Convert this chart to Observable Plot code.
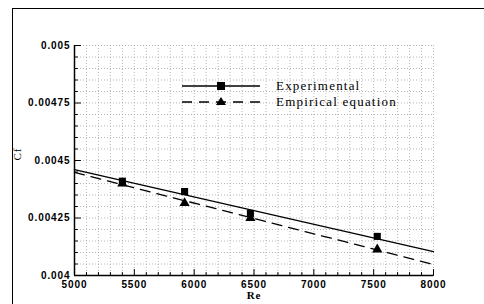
<!DOCTYPE html>
<html>
<head>
<meta charset="utf-8">
<script src="https://cdn.jsdelivr.net/npm/d3@7"></script>
<script src="https://cdn.jsdelivr.net/npm/@observablehq/plot@0.6"></script>
<style>
  html, body { margin: 0; padding: 0; background: #fff; }
  #wrap { position: relative; width: 484px; height: 304px; overflow: hidden; }
  #frame { position: absolute; left: 12px; top: 8px; width: 500px; height: 320px;
           border-left: 1.5px solid #000; border-top: 1.5px solid #000; }
  #legend { position: absolute; left: 182px; top: 78px; font-family: "Liberation Serif", "Times New Roman", serif;
            font-size: 13px; letter-spacing: 1.2px; color: #000; }
  .lg { display: flex; align-items: center; height: 16px; }
  .lg svg { margin-right: 16px; }
</style>
</head>
<body>
<div id="wrap">
  <div id="frame"></div>
  <div id="chart"></div>
  <div id="legend"></div>
</div>
<script>
// Data
const re = [5400, 5920, 6470, 7530];
const cfExperimental = [0.00441, 0.004365, 0.00427, 0.00417];
const cfEmpirical = [0.0044, 0.004315, 0.00425, 0.004113];
const fitRe = [5000, 8000];
const fitExperimental = [0.00446, 0.004104];
const fitEmpirical = [0.004448, 0.004048];
const seriesNames = ["Experimental", "Empirical equation"];
const xTicks = [5000, 5500, 6000, 6500, 7000, 7500, 8000];
const xTickLabels = ["5000", "5500", "6000", "6500", "7000", "7500", "8000"];
const yTicks = [0.004, 0.00425, 0.0045, 0.00475, 0.005];
const yTickLabels = ["0.004", "0.00425", "0.0045", "0.00475", "0.005"];
const xLabel = "Re";
const yLabel = "Cf";

const xMinor = d3.range(5000, 8001, 100);
const yMinor = d3.range(0, 21).map(i => +(0.004 + i * 0.00005).toFixed(6));

const expPts = re.map((r, i) => ({re: r, cf: cfExperimental[i]}));
const empPts = re.map((r, i) => ({re: r, cf: cfEmpirical[i]}));
const expFit = fitRe.map((r, i) => ({re: r, cf: fitExperimental[i]}));
const empFit = fitRe.map((r, i) => ({re: r, cf: fitEmpirical[i]}));

const tickShape = { draw(ctx, l) { ctx.moveTo(0, 0); ctx.lineTo(0, -l); } };
const xMajorSet = new Set(xTicks);
const yMajorSet = new Set(yTicks.map(v => v.toFixed(6)));

const chart = Plot.plot({
  width: 484,
  height: 304,
  marginLeft: 74,
  marginRight: 51,
  marginTop: 45,
  marginBottom: 29,
  style: { fontFamily: "'Liberation Sans', Arial, sans-serif", background: "transparent" },
  x: { domain: [5000, 8000], axis: null },
  y: { domain: [0.004, 0.005], axis: null },
  length: { type: "identity" },
  marks: [
    Plot.gridX(xMinor, { stroke: "#999", strokeOpacity: 1, strokeWidth: 0.7, strokeDasharray: "1,2" }),
    Plot.gridY(yMinor, { stroke: "#999", strokeOpacity: 1, strokeWidth: 0.7, strokeDasharray: "1,2" }),
    Plot.ruleX([5000], { stroke: "#000", strokeWidth: 1.5 }),
    Plot.ruleY([0.004], { stroke: "#000", strokeWidth: 1.5 }),
    // inward ticks
    Plot.vector(xMinor, { x: d => d, y: () => 0.004, length: d => xMajorSet.has(d) ? 6 : 3, rotate: 0, anchor: "start", shape: tickShape, stroke: "#000", strokeWidth: 1 }),
    Plot.vector(yMinor, { x: () => 5000, y: d => d, length: d => yMajorSet.has(d.toFixed(6)) ? 6 : 3, rotate: 90, anchor: "start", shape: tickShape, stroke: "#000", strokeWidth: 1 }),
    Plot.axisX(xTicks, { tickSize: 0, tickPadding: 5, tickFormat: d => xTickLabels[xTicks.indexOf(d)], fontSize: 10, fontWeight: "bold", label: null }),
    Plot.axisY(yTicks, { tickSize: 0, tickPadding: 4, tickFormat: d => yTickLabels[yTicks.indexOf(d)], fontSize: 10, fontWeight: "bold", label: null }),
    Plot.text([xLabel], { frameAnchor: "bottom", dy: 23, fontFamily: "'Liberation Serif', serif", fontSize: 11, fontWeight: "bold" }),
    Plot.text([yLabel], { frameAnchor: "left", dx: -57, dy: 0, rotate: -90, fontFamily: "'Liberation Serif', serif", fontSize: 11 }),
    // fits
    Plot.line(expFit, { x: "re", y: "cf", stroke: "#000", strokeWidth: 1.3 }),
    Plot.line(empFit, { x: "re", y: "cf", stroke: "#000", strokeWidth: 1.3, strokeDasharray: "10,7" }),
    // data points
    Plot.dot(expPts, { x: "re", y: "cf", symbol: "square", r: 4, fill: "#000", stroke: "none" }),
    Plot.dot(empPts, { x: "re", y: "cf", symbol: "triangle", r: 3.8, fill: "#000", stroke: "none" })
  ]
});
chart.querySelectorAll("text").forEach(t => t.style.letterSpacing = "0.9px");
document.getElementById("chart").appendChild(chart);

// legend
const legend = document.getElementById("legend");
function legendItem(name, dash, symbol) {
  const row = document.createElement("div");
  row.className = "lg";
  const w = 78, h = 14;
  const mark = symbol === "square"
    ? `<rect x="${w/2 - 4}" y="${h/2 - 4}" width="8" height="8" fill="#000"/>`
    : `<path d="M${w/2},${h/2 - 5} L${w/2 + 5},${h/2 + 3} L${w/2 - 5},${h/2 + 3} Z" fill="#000"/>`;
  row.innerHTML = `<svg width="${w}" height="${h}"><line x1="0" x2="${w}" y1="${h/2}" y2="${h/2}" stroke="#000" stroke-width="1.3" ${dash ? `stroke-dasharray="${dash}"` : ""}/>${mark}</svg><span>${name}</span>`;
  legend.appendChild(row);
}
legendItem(seriesNames[0], null, "square");
legendItem(seriesNames[1], "10,7", "triangle");
</script>
</body>
</html>
